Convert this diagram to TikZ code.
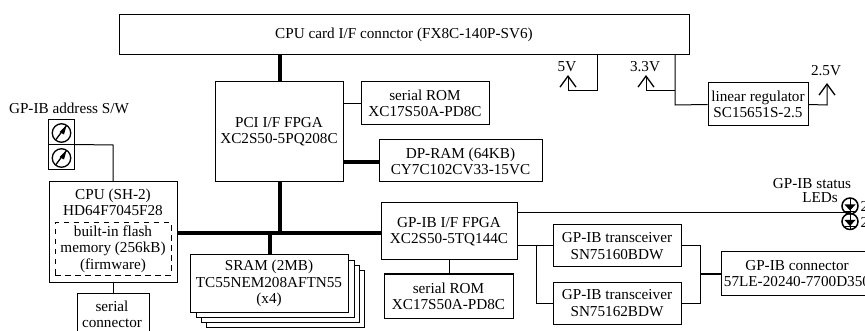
\documentclass[tikz,border=0pt]{standalone}
\usepackage{fontspec}
\setmainfont{Liberation Serif}
\usetikzlibrary{arrows.meta}
\tikzset{
 x=1pt,y=-1pt,
 box/.style={draw=black,line width=1pt,fill=white,inner sep=0pt,align=center,font=\fontsize{15.2}{16.3}\selectfont},
 lab/.style={inner sep=0pt,align=center,font=\fontsize{15.2}{16.3}\selectfont},
 wire/.style={draw=black,line width=1pt},
 bus/.style={draw=black,line width=3.6pt},
 upwire/.style={draw=black,line width=1pt,-{Straight Barb[length=11pt,width=16pt,line width=1.3pt]}},
}
\newcommand{\bx}[6]{\node[box,minimum width={(#4-#2)*1pt},minimum height={(#5-#3)*1pt}] (#1) at ({(#2+#4)/2},{(#3+#5)/2}) {#6};}
\newcommand{\dial}[3]{%
 \node[draw,circle,line width=1.3pt,minimum size=18.5pt,inner sep=0pt] (#1) at (#2,#3) {};
 \draw[line width=1.3pt] ({#2-5.5},{#3+6.5}) -- ({#2+5},{#3-7.5});
 \fill ({#2+5},{#3-7.5}) -- ({#2-2},{#3-1}) -- ({#2+2.5},{#3+1.5}) -- cycle;}
\newcommand{\led}[3]{%
 \node[draw,circle,line width=1.5pt,minimum size=16pt,inner sep=0pt] (#1) at (#2,#3) {};
 \fill ({#2-5.5},{#3-1.5}) -- ({#2+5.5},{#3-1.5}) -- (#2,{#3+4.5}) -- cycle;
 \draw[line width=1pt] ({#2-5.5},{#3+5.2}) -- ({#2+5.5},{#3+5.2});
 \draw[line width=1pt] (#2,{#3-7.5}) -- (#2,{#3+7.5});}
\begin{document}
\begin{tikzpicture}
\useasboundingbox (0,0) rectangle (865,331);
\clip (0,0) rectangle (865,331);
\coordinate (fiveTip) at (568,75);
\coordinate (threeTip) at (646,75);
\coordinate (twoTip) at (827,83);
% stacked SRAM
\bx{sramD}{206}{271}{364}{327}{}
\bx{sramC}{201}{266}{359}{322}{}
\bx{sramB}{196}{261}{354}{317}{}
\bx{sram}{190}{255}{348}{312}{SRAM (2MB)\\TC55NEM208AFTN55\\(x4)}
\bx{card}{119}{15}{689}{55}{CPU card I/F connctor (FX8C-140P-SV6)}
\bx{pci}{215}{82}{343}{182}{PCI I/F FPGA\\XC2S50-5PQ208C}
\bx{romA}{361}{82}{489}{125}{serial ROM\\XC17S50A-PD8C}
\bx{dpram}{379}{140}{542}{182}{DP-RAM (64KB)\\CY7C102CV33-15VC}
\bx{gpib}{381}{203}{517}{260}{GP-IB I/F FPGA\\XC2S50-5TQ144C}
\bx{romB}{384}{274}{513}{318}{serial ROM\\XC17S50A-PD8C}
\bx{trA}{553}{225}{681}{267}{GP-IB transceiver\\SN75160BDW}
\bx{trB}{553}{282}{681}{324}{GP-IB transceiver\\SN75162BDW}
\bx{conn}{721}{252}{873}{295}{GP-IB connector\\57LE-20240-7700D350}
\bx{reg}{708}{83}{808}{126}{linear regulator\\SC15651S-2.5}
\bx{cpu}{49}{182}{177}{282}{}
\node[lab] (cpulab) at (113,202.5) {CPU (SH-2)\\HD64F7045F28};
\node[draw=black,dash pattern=on 5.5pt off 4.5pt,line width=1pt,minimum width=116pt,minimum height=52pt,inner sep=0pt,lab] (flash) at (113,249) {built-in flash\\memory (256kB)\\(firmware)};
\bx{serial}{77}{293}{149}{336}{}
\node[lab] (seriallab) at (112,314.5) {serial\\connector};
\bx{swA}{48}{120}{74}{145}{}
\bx{swB}{48}{145}{74}{170}{}
\dial{dialA}{61.5}{133}
\dial{dialB}{61.5}{158}
\node[lab] (swlab) at (69,108) {GP-IB address S/W};
% thick buses
\draw[bus] (card.south -| 280,0) -- (pci.north -| 280,0);
\draw[bus] (pci.south -| 280,0) -- (280,233);
\draw[bus] (cpu.east |- 0,233) -- (gpib.west |- 0,233);
\draw[bus] (270,233) -- (sram.north -| 270,0);
\draw[bus] (pci.east |- 0,162) -- (dpram.west |- 0,162);
% thin wires
\draw[wire] (pci.east |- 0,104) -- (romA.west |- 0,104);
\draw[wire] (gpib.south -| 449,0) -- (romB.north -| 449,0);
\draw[wire] (swB.north east) -- (113,145) -- (cpu.north -| 113,0);
\draw[wire] (cpu.south -| 113,0) -- (serial.north -| 113,0);
\coordinate (ledJoin) at (850,213);
\draw[wire] (gpib.east |- 0,213) -- (ledJoin);
\draw[wire] (gpib.east |- 0,246) -- (trA.west);
\draw[wire] (536,246) |- (trB.west);
\draw[wire] (trA.east) -- (700,246) |- (trB.east);
\draw[wire] (700,274) -- (conn.west |- 0,274);
\draw[upwire] (597,55) -- (597,91) -- (568,91) -- (fiveTip);
\draw[upwire] (675,91) -- (646,91) -- (threeTip);
\draw[wire] (675,55) -- (675,105) -- (reg.west);
\draw[upwire] (reg.east) -- (827,105) -- (twoTip);
% LEDs
\led{ledA}{850}{206}
\led{ledB}{850}{221.5}
\node[lab,anchor=west] (numA) at (860.5,206) {2};
\node[lab,anchor=west] (numB) at (860.5,222) {2};
% labels
\node[lab] (v5) at (567,67) {5V};
\node[lab] (v33) at (645,67) {3.3V};
\node[lab] (v25) at (826,71) {2.5V};
\node[lab] (st) at (812,184) {GP-IB status};
\node[lab] (leds) at (820,198) {LEDs};
\end{tikzpicture}
\end{document}
